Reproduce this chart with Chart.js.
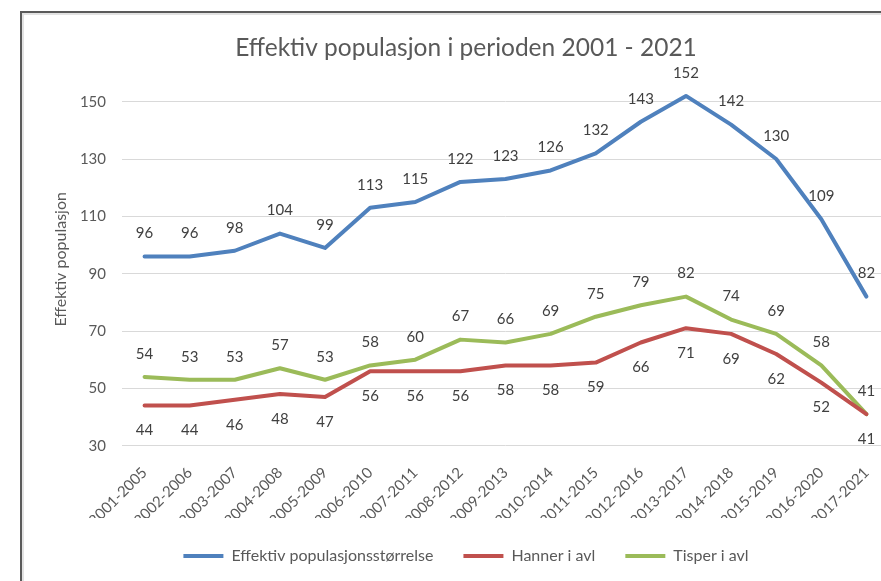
<!DOCTYPE html>
<html>
<head>
<meta charset="utf-8">
<title>Effektiv populasjon</title>
<script src="https://cdn.jsdelivr.net/npm/chart.js@4/dist/chart.umd.min.js"></script>
<style>
  html, body { margin: 0; padding: 0; background: #fff; overflow: hidden; }
  body { width: 881px; height: 581px; position: relative; }
  /* frame of the chart object, cut off on the right and bottom */
  .frame { position: absolute; left: 20px; top: 11px; border-left: 2px solid #5a5a5a; border-top: 2px solid #5a5a5a; }
  .inner { border-left: 2px solid #e2e2e2; border-top: 2px solid #e2e2e2; width: 884px; height: 566px; }
</style>
</head>
<body>
<div class="frame"><div class="inner"><canvas id="chart" width="884" height="566"></canvas></div></div>
<script>
// Periods on the x axis
const periods = ["2001-2005", "2002-2006", "2003-2007", "2004-2008", "2005-2009", "2006-2010",
  "2007-2011", "2008-2012", "2009-2013", "2010-2014", "2011-2015", "2012-2016",
  "2013-2017", "2014-2018", "2015-2019", "2016-2020", "2017-2021"];

// Series values
const effektiv = [96, 96, 98, 104, 99, 113, 115, 122, 123, 126, 132, 143, 152, 142, 130, 109, 82];
const hanner = [44, 44, 46, 48, 47, 56, 56, 56, 58, 58, 59, 66, 71, 69, 62, 52, 41];
const tisper = [54, 53, 53, 57, 53, 58, 60, 67, 66, 69, 75, 79, 82, 74, 69, 58, 41];

// Y axis ticks (axis runs 30..160, last gridline at 150)
const yTicks = [30, 50, 70, 90, 110, 130, 150];

const FONT = "Lato, 'Open Sans', sans-serif";

// Draw the value labels above/below each point
const valueLabels = {
  id: "valueLabels",
  afterDatasetsDraw(chart) {
    const ctx = chart.ctx;
    ctx.save();
    ctx.font = "15px " + FONT;
    ctx.fillStyle = "#404040";
    ctx.textAlign = "center";
    ctx.textBaseline = "middle";
    chart.data.datasets.forEach((ds, i) => {
      const meta = chart.getDatasetMeta(i);
      meta.data.forEach((pt, j) => {
        const dy = ds.labelBelow ? 25 : -23;
        ctx.fillText(String(ds.data[j]), pt.x, pt.y + dy);
      });
    });
    ctx.restore();
  }
};

function series(label, data, color, below) {
  return {
    label: label,
    data: data,
    borderColor: color,
    backgroundColor: color,
    borderWidth: 4,
    borderJoinStyle: "round",
    borderCapStyle: "round",
    pointRadius: 0,
    pointHoverRadius: 0,
    tension: 0,
    labelBelow: below
  };
}

new Chart(document.getElementById("chart"), {
  type: "line",
  data: {
    labels: periods,
    datasets: [
      series("Effektiv populasjonsstørrelse", effektiv, "#4f81bd", false),
      series("Hanner i avl", hanner, "#c0504d", true),
      series("Tisper i avl", tisper, "#9bbb59", false)
    ]
  },
  options: {
    responsive: false,
    animation: false,
    layout: { padding: { left: 0, right: 0, top: 0, bottom: 7 } },
    plugins: {
      title: {
        display: true,
        text: "Effektiv populasjon i perioden 2001 - 2021",
        color: "#595959",
        font: { family: FONT, size: 24.5, weight: "normal" },
        padding: { top: 18.3, bottom: 10.3 }
      },
      legend: {
        position: "bottom",
        labels: {
          color: "#595959",
          font: { family: FONT, size: 16 },
          usePointStyle: true,
          pointStyle: "line",
          pointStyleWidth: 40,
          padding: 30
        }
      },
      tooltip: { enabled: false }
    },
    scales: {
      x: {
        offset: true,
        grid: { display: false, offset: true },
        border: { display: false },
        ticks: {
          color: "#595959",
          font: { family: FONT, size: 15 },
          maxRotation: 45,
          minRotation: 45,
          padding: 10,
          autoSkip: false
        },
        afterFit(scale) { scale.height = 72.3; }
      },
      y: {
        min: 30,
        max: 160,
        grid: { color: "#d9d9d9", lineWidth: 1, drawTicks: false },
        border: { display: false },
        afterBuildTicks(scale) { scale.ticks = yTicks.map(v => ({ value: v })); },
        ticks: {
          color: "#595959",
          font: { family: FONT, size: 15 },
          padding: 16
        },
        title: {
          display: true,
          text: "Effektiv populasjon",
          color: "#595959",
          font: { family: FONT, size: 16 },
          padding: { top: 27 }
        },
        afterFit(scale) { scale.width = 98; }
      },
      // empty axis that only keeps room on the right side
      yRight: {
        position: "right",
        display: true,
        grid: { display: false },
        border: { display: false },
        ticks: { display: false },
        afterFit(scale) { scale.width = 19; }
      }
    }
  },
  plugins: [valueLabels]
});
</script>
</body>
</html>
